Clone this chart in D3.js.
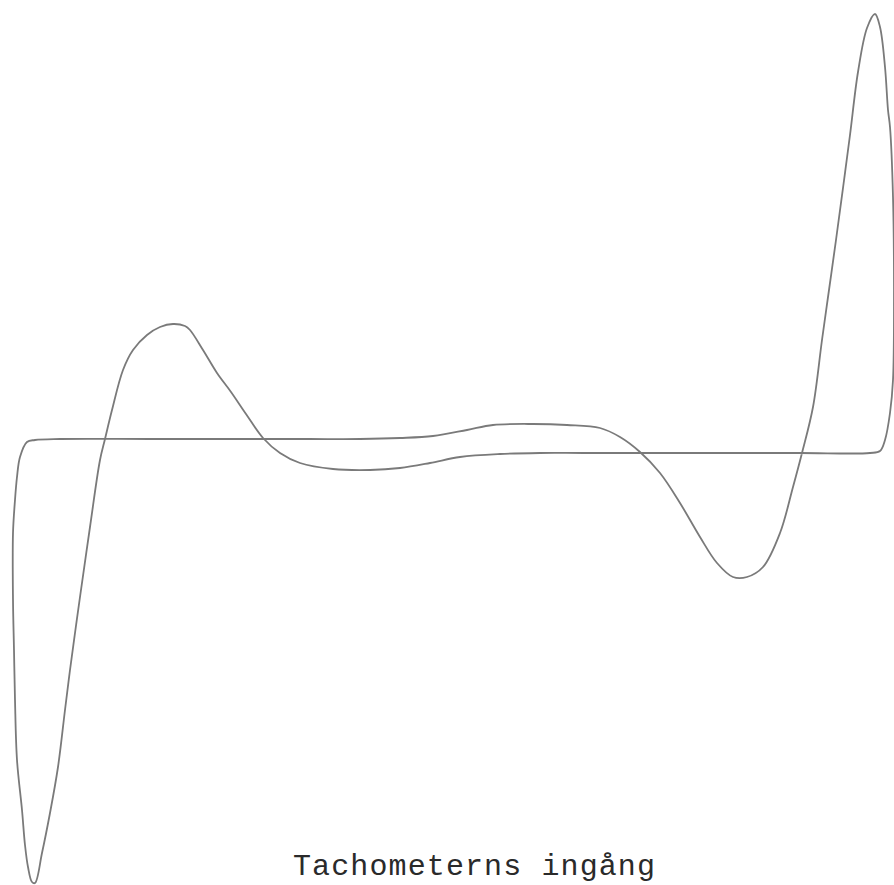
<!DOCTYPE html>
<html>
<head>
<meta charset="utf-8">
<script src="https://cdn.jsdelivr.net/npm/d3@7"></script>
<style>
  body { margin: 0; background: #fff; }
</style>
</head>
<body>
<div id="chart"></div>
<script>
// closed loop traced from the plotter sheet (input vs. output, arbitrary units)
const inputX = [
  86.2, 85.4, 84.5, 83.7, 83.0, 82.3, 81.6, 80.9, 80.0, 78.9,
  78.0, 76.7, 75.0, 73.4, 72.0, 70.4, 68.7, 66.7, 64.7, 62.7,
  60.7, 58.7, 55.4, 52.0, 48.0, 45.4, 42.0, 38.7, 34.7, 29.7,
  23.7, 13.7, 4.7, 2.2, 1.4, 0.7, 0.4, 0.2, 0.0, 0.0,
  0.1, 0.2, 0.4, 0.9, 1.2, 1.5, 1.9, 2.2, 2.9, 3.7,
  4.5, 5.2, 5.7, 6.2, 6.7, 7.7, 8.7, 9.2, 9.9, 11.0,
  12.0, 13.4, 14.7, 16.0, 17.2, 17.7, 19.0, 20.4, 21.8, 23.3,
  25.0, 26.7, 28.7, 32.0, 35.7, 38.7, 41.7, 44.7, 48.7, 52.7,
  57.0, 68.7, 78.7, 85.7, 86.7, 87.2, 87.7, 88.0, 88.1, 88.0,
  87.7, 87.5, 87.2, 86.7
];
const outputY = [
  43.2, 41.8, 37.4, 31.1, 25.8, 20.6, 15.6, 10.6, 3.9, -0.7,
  -4.1, -8.7, -12.1, -13.1, -13.1, -11.7, -9.1, -5.7, -2.7, -0.6,
  0.9, 1.8, 2.1, 2.2, 2.1, 1.6, 1.0, 0.8, 0.7, 0.7,
  0.7, 0.7, 0.7, 0.6, 0.4, -1.1, -3.1, -5.4, -8.7, -15.4,
  -20.4, -25.4, -31.4, -36.4, -39.9, -42.1, -43.6, -43.7, -40.7, -36.7,
  -32.1, -26.4, -22.4, -18.7, -15.1, -8.1, -1.4, 0.7, 3.6, 7.6,
  9.6, 11.1, 11.9, 12.2, 12.0, 11.6, 9.6, 7.3, 5.4, 3.2,
  0.8, -0.7, -1.7, -2.3, -2.4, -2.2, -1.7, -1.1, -0.8, -0.7,
  -0.7, -0.7, -0.7, -0.7, -0.5, 0.6, 3.3, 6.6, 14.6, 24.9,
  31.9, 33.6, 37.9, 41.9
];
const title = "Tachometerns ingång";

const width = 894;
const height = 885;

const svg = d3.select("#chart")
  .append("svg")
  .attr("width", width)
  .attr("height", height);

const x = d3.scaleLinear().domain([0, 88]).range([13, 893]);
const y = d3.scaleLinear().domain([-44, 44]).range([886, 6]);

const points = inputX.map((d, i) => [d, outputY[i]]);

const line = d3.line()
  .x(d => x(d[0]))
  .y(d => y(d[1]))
  .curve(d3.curveCatmullRomClosed.alpha(0.5));

svg.append("path")
  .datum(points)
  .attr("d", line)
  .attr("fill", "none")
  .attr("stroke", "#7a7a7a")
  .attr("stroke-width", 1.8)
  .attr("stroke-linejoin", "round");

// caption, typewriter style
svg.append("text")
  .attr("x", 474)
  .attr("y", 875)
  .attr("text-anchor", "middle")
  .attr("font-family", "'Liberation Mono', 'Courier New', monospace")
  .attr("font-size", 30)
  .attr("textLength", 362)
  .attr("lengthAdjust", "spacing")
  .attr("fill", "#2a2a2a")
  .text(title);
</script>
</body>
</html>
